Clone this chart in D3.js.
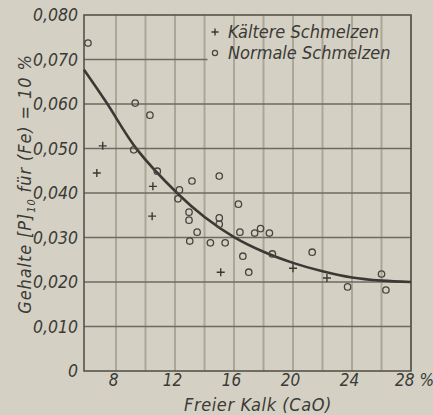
<!DOCTYPE html>
<html><head><meta charset="utf-8">
<script src="https://cdn.jsdelivr.net/npm/d3@7"></script>
<style>
html,body{margin:0;padding:0;background:#d4d1c4;}
svg{display:block;}
text{font-family:"DejaVu Sans Condensed","DejaVu Sans",sans-serif;font-style:italic;fill:#3b3a36;}
</style></head><body>
<script>
// Data
const xTicks = [8, 12, 16, 20, 24, 28];
const xTickLabels = ["8", "12", "16", "20", "24", "28 %"];
const xGrid = [8, 10, 12, 14, 16, 18, 20, 22, 24, 26, 28];
const yTicks = [0, 0.01, 0.02, 0.03, 0.04, 0.05, 0.06, 0.07, 0.08];
const yTickLabels = ["0", "0,010", "0,020", "0,030", "0,040", "0,050", "0,060", "0,070", "0,080"];

const normalX = [6.1, 9.3, 10.3, 9.2, 10.8, 13.15, 12.3, 12.2, 12.95, 12.95, 13.5, 13.0, 15.0, 16.3, 15.0, 15.0, 16.4, 17.4, 17.8, 18.4, 14.4, 15.4, 16.6, 17.0, 18.6, 21.3, 23.7, 26.0, 26.3];
const normalY = [0.0737, 0.0602, 0.0575, 0.0497, 0.0449, 0.0427, 0.0407, 0.0387, 0.0357, 0.0339, 0.0312, 0.0292, 0.0438, 0.0375, 0.0344, 0.0330, 0.0312, 0.0310, 0.0320, 0.0310, 0.0288, 0.0288, 0.0258, 0.0222, 0.0263, 0.0267, 0.0189, 0.0218, 0.0182];

const coldX = [7.1, 6.7, 10.5, 10.45, 15.1, 22.3, 20.0];
const coldY = [0.0506, 0.0445, 0.0415, 0.0348, 0.0222, 0.0209, 0.0231];

const curveX = [5.83, 7.32, 9.42, 12.14, 14.0, 16.0, 18.0, 20.0, 22.0, 24.0, 26.0, 28.0];
const curveY = [0.0677, 0.0605, 0.0498, 0.0400, 0.0346, 0.0301, 0.0268, 0.0243, 0.0224, 0.0210, 0.0203, 0.0200];

const legendLabels = ["Kältere Schmelzen", "Normale Schmelzen"];
const xTitle = "Freier Kalk (CaO)";

const W = 433, H = 415;
const svg = d3.select("body").append("svg").attr("width", W).attr("height", H);
svg.append("rect").attr("width", W).attr("height", H).attr("fill", "#d4d1c4");

const L = 84, R = 411, T = 15, B = 371;
const x = d3.scaleLinear().domain([5.83, 28]).range([L, R]);
const y = d3.scaleLinear().domain([0, 0.08]).range([B, T]);

// vertical gridlines
svg.append("g").selectAll("line").data(xGrid).join("line")
  .attr("x1", d => x(d)).attr("x2", d => x(d)).attr("y1", T).attr("y2", B)
  .attr("stroke", "#aaa799").attr("stroke-width", 2);

// horizontal gridlines (0.070 stops at legend)
svg.append("g").selectAll("line").data(yTicks.filter(d => d > 0 && d < 0.08)).join("line")
  .attr("x1", L).attr("x2", d => d === 0.07 ? x(14.2) : R)
  .attr("y1", d => y(d)).attr("y2", d => y(d))
  .attr("stroke", "#6c6a61").attr("stroke-width", 1.4);

// frame
svg.append("rect").attr("x", L).attr("y", T).attr("width", R - L).attr("height", B - T)
  .attr("fill", "none").attr("stroke", "#55534c").attr("stroke-width", 1.6);

// y axis labels
const yAxis = d3.axisLeft(y).tickValues(yTicks).tickSize(0).tickPadding(5)
  .tickFormat((d, i) => yTickLabels[i]);
const gy = svg.append("g").attr("transform", `translate(${L - 1},0)`).call(yAxis);
gy.select(".domain").remove();
gy.selectAll("text").attr("font-size", 17.5).attr("font-family", null);

// x axis labels
const xAxis = d3.axisBottom(x).tickValues(xTicks).tickSize(0).tickPadding(3)
  .tickFormat((d, i) => xTickLabels[i]);
const gx = svg.append("g").attr("transform", `translate(-3,${B})`).call(xAxis);
gx.select(".domain").remove();
gx.selectAll("text").attr("font-size", 17).attr("font-family", null);
gx.selectAll(".tick").filter(d => d === 28).select("text").attr("dx", 6);

// axis titles
svg.append("text").attr("x", 258).attr("y", 411).attr("text-anchor", "middle")
  .attr("font-size", 18).attr("letter-spacing", 0.6).text(xTitle);

const yt = svg.append("text").attr("transform", "translate(31,184) rotate(-90)")
  .attr("text-anchor", "middle").attr("font-size", 18).attr("letter-spacing", 0.9);
yt.append("tspan").text("Gehalte [P]");
yt.append("tspan").attr("font-size", 11).attr("dy", 4).text("10");
yt.append("tspan").attr("dy", -4).text(" für (Fe) = 10 %");

// curve
const line = d3.line().x(d => x(d[0])).y(d => y(d[1])).curve(d3.curveCatmullRom.alpha(0.5));
svg.append("path").datum(curveX.map((v, i) => [v, curveY[i]]))
  .attr("d", line).attr("fill", "none").attr("stroke", "#3a3934").attr("stroke-width", 2.6);

// normal points (circles)
svg.append("g").selectAll("circle").data(normalX.map((v, i) => [v, normalY[i]])).join("circle")
  .attr("cx", d => x(d[0])).attr("cy", d => y(d[1])).attr("r", 3.2)
  .attr("fill", "none").attr("stroke", "#45443e").attr("stroke-width", 1.3);

// cold points (plus)
svg.append("g").selectAll("path").data(coldX.map((v, i) => [v, coldY[i]])).join("path")
  .attr("transform", d => `translate(${x(d[0])},${y(d[1])})`)
  .attr("d", "M-4,0H4M0,-4V4").attr("stroke", "#3a3934").attr("stroke-width", 1.4).attr("fill", "none");

// legend
const lg = svg.append("g");
lg.append("path").attr("transform", "translate(215,32)").attr("d", "M-3.5,0H3.5M0,-3.5V3.5")
  .attr("stroke", "#3a3934").attr("stroke-width", 1.4);
lg.append("circle").attr("cx", 215).attr("cy", 53).attr("r", 2.6)
  .attr("fill", "none").attr("stroke", "#45443e").attr("stroke-width", 1.2);
lg.append("text").attr("x", 228).attr("y", 38).attr("font-size", 18).text(legendLabels[0]);
lg.append("text").attr("x", 228).attr("y", 59).attr("font-size", 18).text(legendLabels[1]);
</script>
</body></html>
